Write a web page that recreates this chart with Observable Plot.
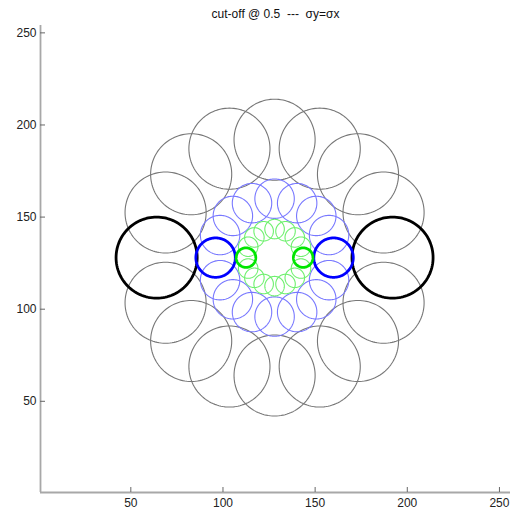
<!DOCTYPE html>
<html>
<head>
<meta charset="utf-8">
<script src="https://cdn.jsdelivr.net/npm/d3@7"></script>
<script src="https://cdn.jsdelivr.net/npm/@observablehq/plot@0.6"></script>
<style>
  html, body { margin: 0; padding: 0; background: #fff; }
  #chart svg { display: block; font-family: "Liberation Sans", Arial, sans-serif; }
</style>
</head>
<body>
<div id="chart"></div>
<script>
// ---- data ----
const titleText = "cut-off @ 0.5\u00a0\u00a0---\u00a0\u00a0\u03c3y=\u03c3x";
const centerX = 128;
const centerY = 128;
const ringNames = ["low", "mid", "high"];
const ringRadii = [64, 32, 15.5];        // distance of circle centres from centre
const circleRadii = [22, 10.7, 5.3];     // radius of each cut-off circle
const thickColors = ["#000000", "#0000ff", "#00e600"];
const thinColors = ["#777777", "#7878ff", "#6ef06e"];
const orientationsDeg = [0, 22.5, 45, 67.5, 90, 112.5, 135, 157.5, 180, 202.5, 225, 247.5, 270, 292.5, 315, 337.5];
const highlightDeg = [0, 180];
const xTicks = [50, 100, 150, 200, 250];
const yTicks = [50, 100, 150, 200, 250];
const xDomain = [1, 256];
const yDomain = [0.5, 254];

// ---- build circle outlines (geometry from the data above) ----
const steps = 120;
function circlePts(cx, cy, r, id, ring) {
  const pts = [];
  for (let i = 0; i <= steps; i++) {
    const t = (i / steps) * 2 * Math.PI;
    pts.push({x: cx + r * Math.cos(t), y: cy + r * Math.sin(t), id, ring});
  }
  return pts;
}
const thin = [], thick = [];
ringNames.forEach((name, ri) => {
  orientationsDeg.forEach((deg) => {
    const a = deg * Math.PI / 180;
    const cx = centerX + ringRadii[ri] * Math.cos(a);
    const cy = centerY + ringRadii[ri] * Math.sin(a);
    thin.push(...circlePts(cx, cy, circleRadii[ri], name + deg, ri));
    if (highlightDeg.includes(deg)) thick.push(...circlePts(cx, cy, circleRadii[ri], name + deg, ri));
  });
});

const width = 510, height = 515;
const marks = [];
[0, 1, 2].forEach(ri => {
  marks.push(Plot.line(thin.filter(d => d.ring === ri), {x: "x", y: "y", z: "id", stroke: thinColors[ri], strokeWidth: 1.1, curve: "linear"}));
});
[0, 1, 2].forEach(ri => {
  marks.push(Plot.line(thick.filter(d => d.ring === ri), {x: "x", y: "y", z: "id", stroke: thickColors[ri], strokeWidth: 2.8, curve: "linear"}));
});
marks.push(Plot.ruleX([xDomain[0]], {stroke: "#a8a8a8", strokeWidth: 1.8}));
marks.push(Plot.ruleY([yDomain[0]], {stroke: "#a8a8a8", strokeWidth: 1.8}));
marks.push(Plot.axisX({ticks: xTicks, tickSize: -5, tickPadding: 11, tickFormat: d => String(d), stroke: "#666", fill: "#222", fontSize: 12, label: null}));
marks.push(Plot.axisY({ticks: yTicks, tickSize: -5, tickPadding: 9, tickFormat: d => String(d), stroke: "#666", fill: "#222", fontSize: 12, label: null}));
marks.push(Plot.text([titleText], {text: d => d, frameAnchor: "top", dy: -16, fontSize: 12, fill: "#111"}));

const chart = Plot.plot({
  width, height,
  marginLeft: 40, marginRight: 0, marginTop: 25, marginBottom: 23,
  x: {domain: xDomain},
  y: {domain: yDomain},
  style: {fontFamily: "'Liberation Sans', Arial, sans-serif", fontSize: "12px", overflow: "visible"},
  marks
});
document.getElementById("chart").appendChild(chart);
</script>
</body>
</html>
